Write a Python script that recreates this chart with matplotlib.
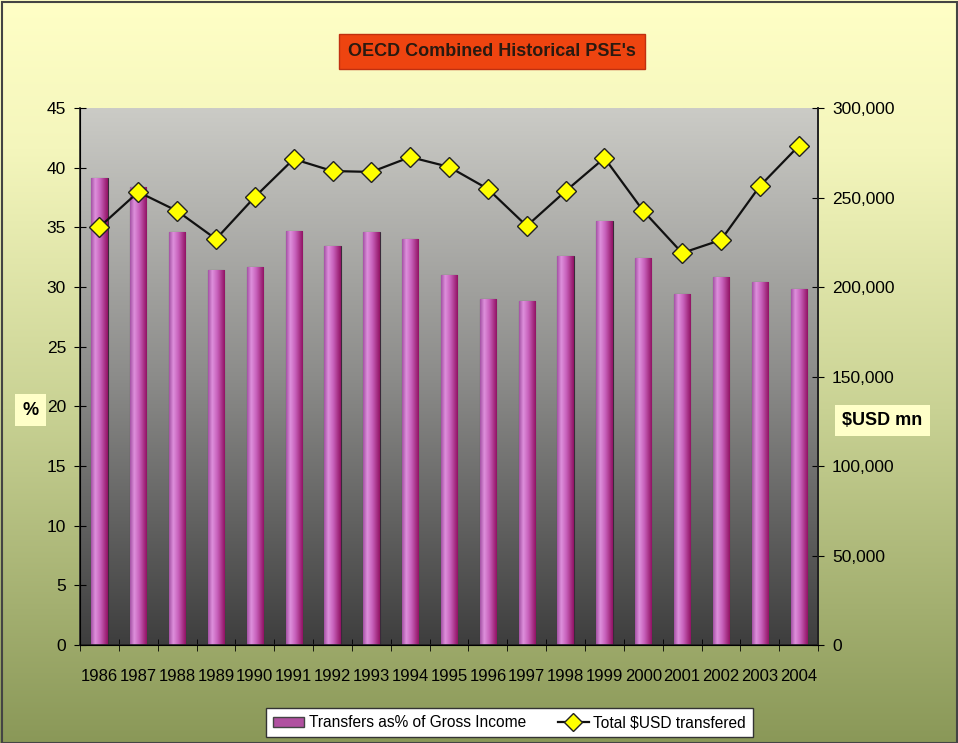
import numpy as np
import matplotlib
matplotlib.use("Agg")
import matplotlib.pyplot as plt
from matplotlib.colors import LinearSegmentedColormap
from matplotlib.patches import Rectangle, Patch
from matplotlib.lines import Line2D

plt.rcParams['font.family'] = ['Liberation Sans', 'DejaVu Sans']

years = ['1986', '1987', '1988', '1989', '1990', '1991', '1992', '1993', '1994', '1995',
         '1996', '1997', '1998', '1999', '2000', '2001', '2002', '2003', '2004']
pct = [39.1, 38.4, 34.6, 31.4, 31.7, 34.7, 33.4, 34.6, 34.0, 31.0,
       29.0, 28.8, 32.6, 35.5, 32.4, 29.4, 30.8, 30.4, 29.8]
usd = [233500, 253100, 242500, 226800, 250300, 271500, 264800, 264300, 272600, 267100,
       254800, 234100, 253600, 272100, 242500, 219000, 226300, 256400, 278800]

fig = plt.figure(figsize=(9.58, 7.43), dpi=100)

# figure background gradient (pale yellow -> olive)
bg = fig.add_axes([0, 0, 1, 1], zorder=-10)
bg_cmap = LinearSegmentedColormap.from_list(
    'bg', [(0, '#8a9858'), (0.45, '#c9d294'), (0.8, '#f4f6bc'), (1, '#ffffc6')])
bg.imshow(np.linspace(0, 1, 256).reshape(-1, 1), aspect='auto', cmap=bg_cmap,
          origin='lower', extent=[0, 1, 0, 1])
bg.set_xlim(0, 1)
bg.set_ylim(0, 1)
bg.axis('off')
fig.patches.append(Rectangle((0.002, 0.0), 0.997, 0.997, transform=fig.transFigure,
                             fill=False, edgecolor='#444444', lw=1.5))

ax = fig.add_axes([0.0835, 0.1319, 0.7705, 0.7227])
x = np.arange(len(years))
ax.set_xlim(-0.5, len(years) - 0.5)
ax.set_ylim(0, 45)

# plot area gradient (light grey -> dark grey)
pa_cmap = LinearSegmentedColormap.from_list('pa', ['#3e3e3e', '#8c8c8a', '#cbcbc6'])
ax.imshow(np.linspace(0, 1, 256).reshape(-1, 1), aspect='auto', cmap=pa_cmap,
          origin='lower', extent=[-0.5, len(years) - 0.5, 0, 45], zorder=0)

bar_cmap = LinearSegmentedColormap.from_list(
    'bar', [(0, '#a452a4'), (0.25, '#de90dc'), (0.55, '#c862bc'), (1, '#921264')])
bars = ax.bar(x, pct, width=0.42, color='#b050a0', edgecolor='#3a2a3a', lw=0.8, zorder=2)
for b in bars:
    x0, w, h = b.get_x(), b.get_width(), b.get_height()
    im = ax.imshow(np.linspace(0, 1, 64).reshape(1, -1), aspect='auto', cmap=bar_cmap,
                   extent=[x0, x0 + w, 0, h], zorder=2.5)
    im.set_clip_path(b)
ax.set_xlim(-0.5, len(years) - 0.5)
ax.set_ylim(0, 45)

ax.set_yticks(np.arange(0, 46, 5))
ax.tick_params(axis='y', direction='inout', length=8, labelsize=12.5, pad=6)
ax.set_xticks(x)
ax.set_xticklabels(years, fontsize=12)
ax.tick_params(axis='x', length=0, pad=17)
ax.set_xticks(np.arange(-0.5, len(years), 1), minor=True)
ax.tick_params(axis='x', which='minor', direction='inout', length=8)
ax.spines['top'].set_visible(False)
for s in ['left', 'bottom', 'right']:
    ax.spines[s].set_color('#222222')
    ax.spines[s].set_linewidth(1.2)

ax2 = ax.twinx()
ax2.set_ylim(0, 300000)
ax2.set_yticks(np.arange(0, 300001, 50000))
ax2.set_yticklabels([f'{v:,}' for v in range(0, 300001, 50000)])
ax2.tick_params(axis='y', direction='inout', length=8, labelsize=12.5, pad=6)
ax2.spines['top'].set_visible(False)
ax2.spines['right'].set_color('#222222')
ax2.spines['right'].set_linewidth(1.2)
ax2.plot(x, usd, color='#111111', lw=1.6, marker='D', markersize=10,
         markerfacecolor='#ffff00', markeredgecolor='#222222', markeredgewidth=1, zorder=5)

# title
fig.text(0.514, 0.931, "OECD Combined Historical PSE's", ha='center', va='center',
         fontsize=13, fontweight='bold', color='#2a1a10',
         bbox=dict(boxstyle='square,pad=0.5', facecolor='#ee4410', edgecolor='#c03010'))

# axis labels
fig.text(0.032, 0.448, '%', ha='center', va='center', fontsize=13, fontweight='bold',
         bbox=dict(boxstyle='square,pad=0.4', facecolor='#ffffc8', edgecolor='none'))
fig.text(0.921, 0.434, '$USD mn', ha='center', va='center', fontsize=13, fontweight='bold',
         bbox=dict(boxstyle='square,pad=0.4', facecolor='#ffffc8', edgecolor='none'))

handles = [Patch(facecolor='#b050a0', edgecolor='#444444'),
           Line2D([], [], color='#111111', lw=1.6, marker='D', markersize=9,
                  markerfacecolor='#ffff00', markeredgecolor='#222222')]
leg = fig.legend(handles, ['Transfers as% of Gross Income', 'Total $USD transfered'],
                 loc='center', bbox_to_anchor=(0.532, 0.027), ncol=2, frameon=True,
                 fancybox=False, edgecolor='#333333', fontsize=11.2, handlelength=2.0,
                 handletextpad=0.3, columnspacing=2.0, borderpad=0.45)
leg.get_frame().set_linewidth(1.0)
leg.get_frame().set_facecolor('white')
leg.get_frame().set_alpha(1)

fig.savefig('out.png', dpi=100)
